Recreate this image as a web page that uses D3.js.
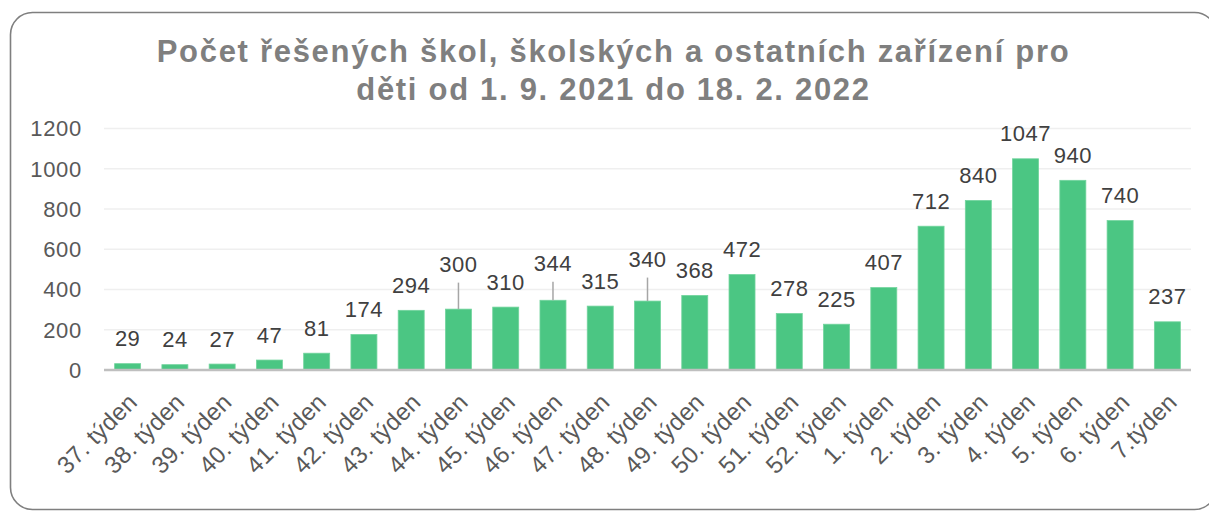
<!DOCTYPE html>
<html>
<head>
<meta charset="utf-8">
<script src="https://cdn.jsdelivr.net/npm/d3@7"></script>
<style>
  html, body { margin: 0; padding: 0; background: #fff; }
  svg { display: block; font-family: "Liberation Sans", Arial, sans-serif; }
</style>
</head>
<body>
<svg id="chart" width="1209" height="511"></svg>
<script>
// data
const weeks = [
  '37. týden','38. týden','39. týden','40. týden','41. týden','42. týden',
  '43. týden','44. týden','45. týden','46. týden','47. týden','48. týden',
  '49. týden','50. týden','51. týden','52. týden','1. týden','2. týden',
  '3. týden','4. týden','5. týden','6. týden','7.týden'
];
const counts = [29, 24, 27, 47, 81, 174, 294, 300, 310, 344, 315, 340,
                368, 472, 278, 225, 407, 712, 840, 1047, 940, 740, 237];
const yTicks = [0, 200, 400, 600, 800, 1000, 1200];
const titleLines = [
  'Počet řešených škol, školských a ostatních zařízení pro',
  'děti od 1. 9. 2021 do 18. 2. 2022'
];

// labels that were dragged up in the original, with a leader line (px)
const LIFT = { '44. týden': 20, '46. týden': 12, '48. týden': 17 };

const GREEN = '#4bc683';
const plot = { left: 104, right: 1191, top: 128, bottom: 369.5 };

const svg = d3.select('#chart');

// frame
svg.append('rect')
  .attr('x', 10.5).attr('y', 12.5)
  .attr('width', 1206).attr('height', 497)
  .attr('rx', 22).attr('ry', 22)
  .attr('fill', '#fff')
  .attr('stroke', '#7f7f7f')
  .attr('stroke-width', 1.6);

// title
svg.append('g').selectAll('text')
  .data(titleLines)
  .join('text')
  .attr('x', 613.5)
  .attr('y', (d, i) => 62 + i * 37.5)
  .attr('text-anchor', 'middle')
  .attr('font-size', 31)
  .attr('font-weight', 'bold')
  .attr('letter-spacing', 1.7)
  .attr('fill', '#7f7f7f')
  .text(d => d);

const x = d3.scaleBand()
  .domain(weeks)
  .range([plot.left, plot.right])
  .paddingInner(0.45)
  .paddingOuter(0.225);

const y = d3.scaleLinear()
  .domain([0, 1200])
  .range([plot.bottom, plot.top]);

// gridlines + y labels
const yAxis = svg.append('g')
  .call(d3.axisLeft(y).tickValues(yTicks).tickFormat(d3.format('d')).tickSize(0).tickPadding(0));
yAxis.select('.domain').remove();
yAxis.selectAll('.tick text')
  .attr('x', 82)
  .attr('dy', '0.36em')
  .attr('text-anchor', 'end')
  .attr('font-size', 22)
  .attr('letter-spacing', 0.7)
  .attr('font-family', '"Liberation Sans", Arial, sans-serif')
  .attr('fill', '#595959');
yAxis.selectAll('.tick').filter(d => d !== 0)
  .append('line')
  .attr('x1', plot.left).attr('x2', plot.right)
  .attr('stroke', '#efefef')
  .attr('stroke-width', 1.5);

// bars
svg.append('g').selectAll('rect')
  .data(weeks)
  .join('rect')
  .attr('x', d => x(d))
  .attr('y', (d, i) => y(counts[i]))
  .attr('width', x.bandwidth())
  .attr('height', (d, i) => y(0) - y(counts[i]))
  .attr('fill', GREEN)
  .attr('stroke', '#72d49d')
  .attr('stroke-width', 0.8);

// x axis line
svg.append('line')
  .attr('x1', plot.left).attr('x2', plot.right)
  .attr('y1', y(0) + 0.5).attr('y2', y(0) + 0.5)
  .attr('stroke', '#bfbfbf')
  .attr('stroke-width', 2.5);

// leader lines
svg.append('g').selectAll('line')
  .data(weeks.map((w, i) => ({ w, v: counts[i] })).filter(d => LIFT[d.w]))
  .join('line')
  .attr('x1', d => x(d.w) + x.bandwidth() / 2)
  .attr('x2', d => x(d.w) + x.bandwidth() / 2)
  .attr('y1', d => y(d.v))
  .attr('y2', d => y(d.v) - 17.5 - LIFT[d.w] + 11)
  .attr('stroke', '#a6a6a6')
  .attr('stroke-width', 1.5);

// value labels
svg.append('g').selectAll('text')
  .data(weeks)
  .join('text')
  .attr('x', d => x(d) + x.bandwidth() / 2)
  .attr('y', (d, i) => y(counts[i]) - 17.5 - (LIFT[d] || 0))
  .attr('text-anchor', 'middle')
  .attr('font-size', 22)
  .attr('letter-spacing', 0.5)
  .attr('fill', '#404040')
  .text((d, i) => counts[i]);

// category labels
const xAxis = svg.append('g')
  .attr('transform', `translate(0,${plot.bottom})`)
  .call(d3.axisBottom(x).tickSize(0).tickPadding(0));
xAxis.select('.domain').remove();
xAxis.selectAll('.tick text')
  .attr('font-size', 24)
  .attr('letter-spacing', 0.3)
  .attr('font-family', '"Liberation Sans", Arial, sans-serif')
  .attr('fill', '#595959')
  .attr('text-anchor', 'end')
  .attr('dy', 0)
  .attr('transform', 'translate(11,34) rotate(-45)');
</script>
</body>
</html>
